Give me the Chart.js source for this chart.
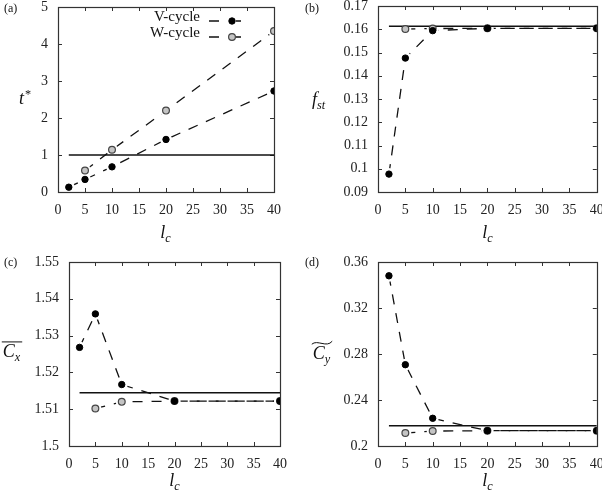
<!DOCTYPE html>
<html>
<head>
<meta charset="utf-8">
<script src="https://cdn.jsdelivr.net/npm/chart.js@4.4.0/dist/chart.umd.min.js"></script>
<style>
  body { margin: 0; background: #fff; }
  #wrap { position: relative; width: 602px; height: 497px; }
  canvas { position: absolute; }
</style>
</head>
<body>
<div id="wrap">
  <canvas id="pa" width="300" height="248" style="left:0;top:0"></canvas>
  <canvas id="pb" width="302" height="248" style="left:300px;top:0"></canvas>
  <canvas id="pc" width="300" height="249" style="left:0;top:248px"></canvas>
  <canvas id="pd" width="302" height="249" style="left:300px;top:248px"></canvas>
</div>
<script>
// x values (coarsening level l_c)
const lcV = [2, 5, 10, 20, 40];
const lcW = [5, 10, 20, 40];
const refRange = [2, 40];
const xTicks = [0, 5, 10, 15, 20, 25, 30, 35, 40];

// (a) t*
const tV = [0.13, 0.34, 0.68, 1.42, 2.73];
const tW = [0.58, 1.14, 2.2, 4.35];
const tRef = 1.0;
const tTicks = [0, 1, 2, 3, 4, 5];

// (b) f_st
const fV = [0.0977, 0.1476, 0.1594, 0.1604, 0.1604];
const fW = [0.1601, 0.1603, 0.1604, 0.1604];
const fRef = 0.1613;
const fTicks = [0.09, 0.1, 0.11, 0.12, 0.13, 0.14, 0.15, 0.16, 0.17];

// (c) mean C_x
const cxV = [1.5268, 1.5359, 1.5167, 1.5122, 1.5122];
const cxW = [1.5102, 1.512, 1.5122, 1.5122];
const cxRef = 1.5145;
const cxTicks = [1.5, 1.51, 1.52, 1.53, 1.54, 1.55];

// (d) amplitude C_y
const cyV = [0.348, 0.2707, 0.2241, 0.2133, 0.2133];
const cyW = [0.2113, 0.213, 0.2133, 0.2133];
const cyRef = 0.2177;
const cyTicks = [0.2, 0.24, 0.28, 0.32, 0.36];

const seriesNames = ['V-cycle', 'W-cycle'];

const SERIF = '"Liberation Serif", "DejaVu Serif", serif';
const DASH = [10, 9];
const LINE_W = 1.3;

function drawMath(ctx, m, x, y, size) {
  const small = size * 0.68;
  ctx.font = `italic ${size}px ${SERIF}`;
  const wb = ctx.measureText(m.base).width;
  ctx.font = `italic ${small}px ${SERIF}`;
  const ws = m.sub ? ctx.measureText(m.sub).width : 0;
  ctx.font = `${small}px ${SERIF}`;
  const wp = m.sup ? ctx.measureText(m.sup).width : 0;
  const total = wb + Math.max(ws, wp) + 1;
  const left = x - total / 2;
  const base = y + size * 0.3;
  ctx.fillStyle = '#111';
  ctx.textAlign = 'left';
  ctx.textBaseline = 'alphabetic';
  ctx.font = `italic ${size}px ${SERIF}`;
  ctx.fillText(m.base, left, base);
  if (m.sub) {
    ctx.font = `italic ${small}px ${SERIF}`;
    ctx.fillText(m.sub, left + wb, base + size * 0.22);
  }
  if (m.sup) {
    ctx.font = `${small}px ${SERIF}`;
    ctx.fillText(m.sup, left + wb + 1, base - size * 0.38);
  }
  ctx.strokeStyle = '#111';
  ctx.lineWidth = 1;
  if (m.deco === 'bar') {
    ctx.beginPath();
    ctx.moveTo(left - 1, base - size * 0.86);
    ctx.lineTo(left + total + 1, base - size * 0.86);
    ctx.stroke();
  } else if (m.deco === 'tilde') {
    const ty = base - size * 0.9;
    ctx.beginPath();
    ctx.moveTo(left - 1, ty + 1);
    ctx.bezierCurveTo(left + total * 0.25, ty - 4, left + total * 0.75, ty + 5, left + total + 1, ty - 2);
    ctx.stroke();
  }
}

function drawFrame(chart) {
  const { ctx, chartArea: a, scales } = chart;
  ctx.save();
  ctx.strokeStyle = '#333';
  ctx.lineWidth = 1;
  ctx.setLineDash([]);
  ctx.beginPath();
  scales.x.ticks.forEach(t => {
    const px = Math.round(scales.x.getPixelForValue(t.value)) + 0.5;
    ctx.moveTo(px, a.bottom); ctx.lineTo(px, a.bottom - 4);
    ctx.moveTo(px, a.top); ctx.lineTo(px, a.top + 4);
  });
  scales.y.ticks.forEach(t => {
    const py = Math.round(scales.y.getPixelForValue(t.value)) + 0.5;
    ctx.moveTo(a.left, py); ctx.lineTo(a.left + 4, py);
    ctx.moveTo(a.right, py); ctx.lineTo(a.right - 4, py);
  });
  ctx.stroke();
  ctx.lineWidth = 1.2;
  ctx.strokeRect(Math.round(a.left) + 0.5, Math.round(a.top) + 0.5,
                 Math.round(a.right - a.left), Math.round(a.bottom - a.top));
  ctx.restore();
}

const framePlugin = {
  id: 'frame',
  // after both dashed lines are drawn: cut small gaps round each marker
  // (gnuplot linespoints look), then the frame, then ref line + markers on top
  afterDatasetDraw(chart, args) {
    if (args.index !== 3) return;
    const ctx = chart.ctx;
    ctx.save();
    ctx.fillStyle = '#fff';
    [0, 1].forEach(i => {
      chart.getDatasetMeta(i).data.forEach(el => {
        ctx.beginPath();
        ctx.arc(el.x, el.y, 6, 0, Math.PI * 2);
        ctx.fill();
      });
    });
    ctx.restore();
    drawFrame(chart);
  },
  afterDraw(chart, args, opts) {
    const ctx = chart.ctx;
    ctx.save();
    ctx.fillStyle = '#111';
    ctx.font = `12px ${SERIF}`;
    ctx.textAlign = 'left';
    ctx.textBaseline = 'middle';
    ctx.fillText(opts.tag, opts.tagX, opts.tagY);
    drawMath(ctx, opts.yTitle, opts.yTitle.x, opts.yTitle.y, 18);
    drawMath(ctx, { base: 'l', sub: 'c' }, opts.xTitleX, 233, 18);
    if (opts.legend) {
      const lg = opts.legend;
      chart.data.datasets.forEach(ds => {
        if (!ds.label) return;
        const i = seriesNames.indexOf(ds.label);
        const y = lg.y + i * lg.dy;
        ctx.font = `15px ${SERIF}`;
        ctx.textAlign = 'right';
        ctx.fillStyle = '#111';
        ctx.fillText(ds.label, lg.x, y);
        ctx.strokeStyle = '#111';
        ctx.lineWidth = LINE_W;
        ctx.beginPath();
        ctx.moveTo(lg.x + 9, y); ctx.lineTo(lg.x + 19, y);
        ctx.moveTo(lg.x + 36, y); ctx.lineTo(lg.x + 41, y);
        ctx.stroke();
        ctx.beginPath();
        ctx.arc(lg.x + 32, y, ds.pointRadius, 0, Math.PI * 2);
        ctx.fillStyle = ds.pointBackgroundColor;
        ctx.fill();
        ctx.strokeStyle = ds.pointBorderColor;
        ctx.lineWidth = ds.pointBorderWidth;
        ctx.stroke();
      });
    }
    ctx.restore();
  }
};

function pts(xs, ys) {
  return xs.map((x, i) => ({ x, y: ys[i] }));
}

function makePanel(id, vVals, wVals, ref, yTicks, box, text) {
  const canvas = document.getElementById(id);
  const H = canvas.height;
  const tickFont = { family: SERIF, size: 14 };
  return new Chart(canvas, {
    type: 'line',
    data: {
      // index 0 is drawn last (on top)
      datasets: [
        {
          label: seriesNames[0],
          data: pts(lcV, vVals),
          showLine: false,
          pointRadius: 3.2,
          pointBackgroundColor: '#000',
          pointBorderColor: '#000',
          pointBorderWidth: 1
        },
        {
          label: seriesNames[1],
          data: pts(lcW, wVals),
          showLine: false,
          pointRadius: 3.4,
          pointBackgroundColor: '#c4c4c4',
          pointBorderColor: '#444',
          pointBorderWidth: 1.2
        },
        {
          data: pts(refRange, [ref, ref]),
          borderColor: '#111',
          borderWidth: 1.5,
          pointRadius: 0
        },
        {
          data: pts(lcW, wVals),
          borderColor: '#111',
          borderWidth: LINE_W,
          borderDash: DASH,
          pointRadius: 0,
          tension: 0
        },
        {
          data: pts(lcV, vVals),
          borderColor: '#111',
          borderWidth: LINE_W,
          borderDash: DASH,
          pointRadius: 0,
          tension: 0
        }
      ]
    },
    options: {
      responsive: false,
      animation: false,
      events: [],
      layout: { padding: { top: box.top, right: canvas.width - box.right, left: 0, bottom: 0 } },
      plugins: {
        legend: { display: false },
        tooltip: { enabled: false },
        frame: text
      },
      scales: {
        x: {
          type: 'linear',
          min: xTicks[0],
          max: xTicks[xTicks.length - 1],
          grid: { display: false, drawTicks: false },
          border: { display: false },
          afterBuildTicks: axis => { axis.ticks = xTicks.map(v => ({ value: v })); },
          afterFit: axis => { axis.height = H - box.bottom; axis.paddingLeft = 0; axis.paddingRight = 0; },
          ticks: { color: '#222', padding: 10, maxRotation: 0, font: tickFont, callback: v => String(v) }
        },
        y: {
          type: 'linear',
          min: yTicks[0],
          max: yTicks[yTicks.length - 1],
          grid: { display: false, drawTicks: false },
          border: { display: false },
          afterBuildTicks: axis => { axis.ticks = yTicks.map(v => ({ value: v })); },
          afterFit: axis => { axis.width = box.left; axis.paddingTop = 0; axis.paddingBottom = 0; },
          ticks: { color: '#222', padding: 10, font: tickFont, callback: v => String(v) }
        }
      }
    },
    plugins: [framePlugin]
  });
}

makePanel('pa', tV, tW, tRef, tTicks,
  { left: 58, right: 274, top: 7, bottom: 192 },
  { tag: '(a)', tagX: 4, tagY: 9, xTitleX: 166,
    yTitle: { base: 't', sup: '*', x: 25, y: 99 },
    legend: { x: 200, y: 21, dy: 16 } });

makePanel('pb', fV, fW, fRef, fTicks,
  { left: 78, right: 297, top: 6, bottom: 192 },
  { tag: '(b)', tagX: 5, tagY: 9, xTitleX: 188,
    yTitle: { base: 'f', sub: 'st', x: 19, y: 100 } });

makePanel('pc', cxV, cxW, cxRef, cxTicks,
  { left: 69, right: 280, top: 14, bottom: 198 },
  { tag: '(c)', tagX: 4, tagY: 15, xTitleX: 175,
    yTitle: { base: 'C', sub: 'x', deco: 'bar', x: 12, y: 104 } });

makePanel('pd', cyV, cyW, cyRef, cyTicks,
  { left: 78, right: 297, top: 14, bottom: 198 },
  { tag: '(d)', tagX: 5, tagY: 15, xTitleX: 188,
    yTitle: { base: 'C', sub: 'y', deco: 'tilde', x: 22, y: 106 } });
</script>
</body>
</html>
